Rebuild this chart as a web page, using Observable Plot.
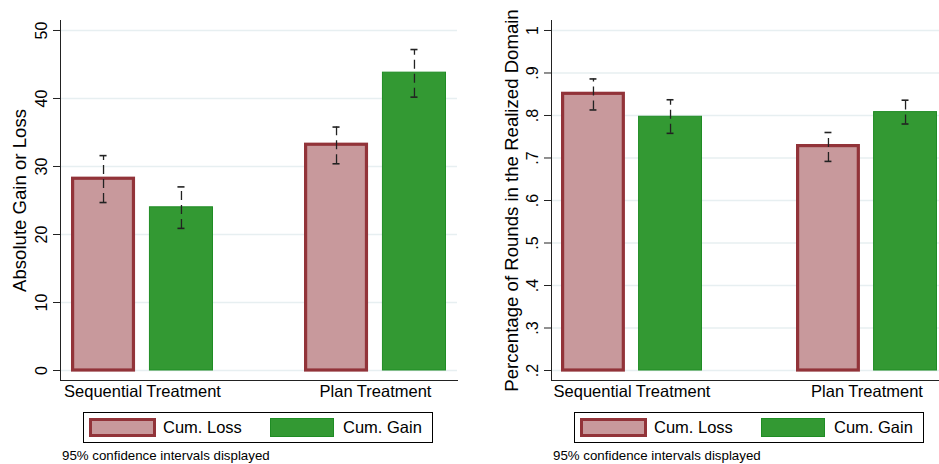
<!DOCTYPE html>
<html><head><meta charset="utf-8">
<script src="https://cdn.jsdelivr.net/npm/d3@7"></script>
<script src="https://cdn.jsdelivr.net/npm/@observablehq/plot@0.6"></script>
<style>
body{margin:0;background:#fff;}
#wrap{position:relative;width:939px;height:464px;overflow:hidden;font-family:"Liberation Sans",Arial,sans-serif;background:#fff;}
.panel{position:absolute;top:0;}
.legend{position:absolute;top:412px;width:350px;height:31px;border:1.5px solid #000;box-sizing:border-box;}
.sw{position:absolute;top:5px;height:19px;box-sizing:border-box;}
.lt{position:absolute;top:4px;font-size:16.5px;line-height:20px;color:#000;}
.note{position:absolute;top:448px;font-size:13.3px;color:#000;}
</style></head><body><div id="wrap"></div>
<script>
const treatments = ["Sequential Treatment", "Plan Treatment"];
const seriesNames = ["Cum. Loss", "Cum. Gain"];

// Left panel: Absolute Gain or Loss
const absLoss   = [28.2, 33.2];
const absLossLo = [24.7, 30.4];
const absLossHi = [31.6, 35.8];
const absGain   = [24.0, 43.8];
const absGainLo = [20.9, 40.2];
const absGainHi = [27.0, 47.2];
const absTicks = [0, 10, 20, 30, 40, 50];
const absTickLabels = ["0", "10", "20", "30", "40", "50"];

// Right panel: Percentage of Rounds in the Realized Domain
const pctLoss   = [0.851, 0.728];
const pctLossLo = [0.813, 0.692];
const pctLossHi = [0.886, 0.760];
const pctGain   = [0.797, 0.808];
const pctGainLo = [0.758, 0.780];
const pctGainHi = [0.837, 0.836];
const pctTicks = [0.2, 0.3, 0.4, 0.5, 0.6, 0.7, 0.8, 0.9, 1];
const pctTickLabels = [".2", ".3", ".4", ".5", ".6", ".7", ".8", ".9", "1"];

const LOSS_FILL = "#c8999c", LOSS_STROKE = "#923339";
const GAIN_FILL = "#339933", GAIN_STROKE = "#1f8c24";
const GRID = "#e7eff1";

function rows(mean, lo, hi, s) {
  return treatments.map((t, i) => ({treatment: t, series: s, mean: mean[i], lo: lo[i], hi: hi[i]}));
}

function panel(o) {
  const {loss, gain, yDomain, ticks, tickLabels, title, width, height, mL, mR, mT, mB, pi, po, titleDx} = o;
  const xs = Plot.scale({x: {type: "band", domain: treatments, range: [mL, width - mR], paddingInner: pi, paddingOuter: po}});
  const bw = xs.bandwidth;
  const BAR = 65;
  const cL = BAR / 2 - bw / 2, cG = bw / 2 - BAR / 2;
  const capIn = (bw - 8) / 2;
  const lab = new Map(ticks.map((t, i) => [t, tickLabels[i]]));
  const errStyle = {stroke: "#222", strokeWidth: 1.3};
  const base = ticks[0] < yDomain[0] ? yDomain[0] : ticks[0];
  return Plot.plot({
    width, height, marginLeft: mL, marginRight: mR, marginTop: mT, marginBottom: mB,
    style: {fontFamily: '"Liberation Sans", Arial, sans-serif', fontSize: "16px", color: "#000", background: "transparent", overflow: "visible"},
    x: {type: "band", domain: treatments, paddingInner: pi, paddingOuter: po, label: null},
    y: {domain: yDomain, label: null},
    marks: [
      Plot.gridY(ticks, {stroke: GRID, strokeOpacity: 1, strokeWidth: 1.5}),
      Plot.barY(loss, {x: "treatment", y1: base, y2: "mean", fill: LOSS_FILL, stroke: LOSS_STROKE, strokeWidth: 3.2, insetLeft: 1.6, insetRight: bw - BAR + 1.6}),
      Plot.barY(gain, {x: "treatment", y1: base, y2: "mean", fill: GAIN_FILL, stroke: GAIN_STROKE, strokeWidth: 1, insetLeft: bw - BAR + 0.5, insetRight: 0.5}),
      Plot.ruleX(loss, {x: "treatment", y1: "lo", y2: "hi", dx: cL, strokeDasharray: "9,5", ...errStyle}),
      Plot.ruleX(gain, {x: "treatment", y1: "lo", y2: "hi", dx: cG, strokeDasharray: "9,5", ...errStyle}),
      Plot.tickY(loss, {x: "treatment", y: "hi", dx: cL, insetLeft: capIn, insetRight: capIn, ...errStyle, strokeWidth: 1.6}),
      Plot.tickY(loss, {x: "treatment", y: "lo", dx: cL, insetLeft: capIn, insetRight: capIn, ...errStyle, strokeWidth: 1.6}),
      Plot.tickY(gain, {x: "treatment", y: "hi", dx: cG, insetLeft: capIn, insetRight: capIn, ...errStyle, strokeWidth: 1.6}),
      Plot.tickY(gain, {x: "treatment", y: "lo", dx: cG, insetLeft: capIn, insetRight: capIn, ...errStyle, strokeWidth: 1.6}),
      Plot.frame({anchor: "left", stroke: "#222"}),
      Plot.frame({anchor: "bottom", stroke: "#222"}),
      Plot.axisY(ticks, {tickSize: 7, tickRotate: -90, tickPadding: 7, fontSize: 16, tickFormat: d => lab.get(d), label: null, stroke: "#222"}),
      Plot.axisX({tickSize: 0, tickPadding: 4.5, fontSize: 16.5, label: null}),
      Plot.text([title], {frameAnchor: "left", dx: titleDx, rotate: -90, fontSize: 18.6, textAnchor: "middle", lineAnchor: "middle", fill: "#000"})
    ]
  });
}

const wrap = document.getElementById("wrap");

const left = panel({
  loss: rows(absLoss, absLossLo, absLossHi, seriesNames[0]),
  gain: rows(absGain, absGainLo, absGainHi, seriesNames[1]),
  yDomain: [-1.47, 51.47], ticks: absTicks, tickLabels: absTickLabels,
  title: "Absolute Gain or Loss",
  width: 470, height: 404, mL: 60, mR: 13, mT: 20, mB: 24, pi: 0.389, po: 0.043, titleDx: -40
});
left.classList.add("panel"); left.style.left = "0px";
wrap.appendChild(left);

const right = panel({
  loss: rows(pctLoss, pctLossLo, pctLossHi, seriesNames[0]),
  gain: rows(pctGain, pctGainLo, pctGainHi, seriesNames[1]),
  yDomain: [0.1765, 1.0235], ticks: pctTicks, tickLabels: pctTickLabels,
  title: "Percentage of Rounds in the Realized Domain",
  width: 477, height: 404, mL: 81, mR: 0, mT: 20, mB: 24, pi: 0.398, po: 0.038, titleDx: -39
});
right.classList.add("panel"); right.style.left = "470px";
wrap.appendChild(right);

function legend(x) {
  const d = document.createElement("div");
  d.className = "legend"; d.style.left = x + "px";
  d.innerHTML =
    `<div class="sw" style="left:5px;width:67px;background:${LOSS_FILL};border:3.2px solid ${LOSS_STROKE}"></div>` +
    `<div class="lt" style="left:79px">${seriesNames[0]}</div>` +
    `<div class="sw" style="left:186px;width:64px;background:${GAIN_FILL};border:1px solid ${GAIN_STROKE}"></div>` +
    `<div class="lt" style="left:259px">${seriesNames[1]}</div>`;
  wrap.appendChild(d);
  const n = document.createElement("div");
  n.className = "note"; n.style.left = (x - 21) + "px";
  n.textContent = "95% confidence intervals displayed";
  wrap.appendChild(n);
}
legend(83);
legend(574);
</script>
</body></html>
